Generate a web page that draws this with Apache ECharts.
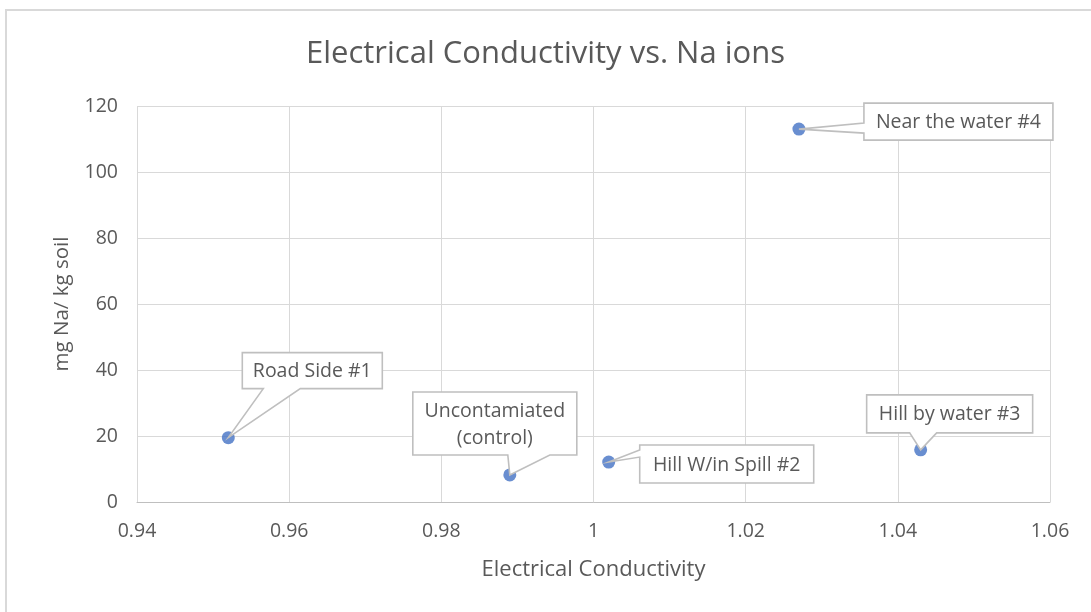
<!DOCTYPE html>
<html>
<head>
<meta charset="UTF-8">
<script src="https://cdn.jsdelivr.net/npm/echarts@6/dist/echarts.min.js"></script>
<title>Electrical Conductivity vs. Na ions</title>
<style>
html, body {
	margin: 0;
	padding: 0;
	background: #FFFFFF;
}

#main {
	width: 1091px;
	height: 612px;
}
</style>
</head>
<body>
	<div id="main"></div>
	<script>
		// data
		var siteNames = [ 'Road Side #1', 'Uncontamiated\n(control)', 'Hill W/in Spill #2', 'Hill by water #3', 'Near the water #4' ];
		var conductivity = [ 0.952, 0.989, 1.002, 1.043, 1.027 ];
		var sodium = [ 19.5, 8.2, 12.1, 15.8, 113 ];
		var xTicks = [ 0.94, 0.96, 0.98, 1, 1.02, 1.04, 1.06 ];
		var yTicks = [ 0, 20, 40, 60, 80, 100, 120 ];

		// callout boxes: offset from the point, size, which side the pointer leaves from
		var callouts = [
			{ dx : 14, dy : -85, w : 140, h : 36, side : 'bottom', b1 : 21, b2 : 58 },
			{ dx : -97, dy : -83, w : 164, h : 63, side : 'bottom', b1 : 95, b2 : 137 },
			{ dx : 31, dy : -17, w : 174, h : 38, side : 'left', b1 : 5, b2 : 12 },
			{ dx : -54, dy : -55, w : 166, h : 38, side : 'bottom', b1 : 43, b2 : 70 },
			{ dx : 65, dy : -26, w : 189, h : 37, side : 'left', b1 : 20, b2 : 30 }
		];

		var points = [];
		for (var i = 0; i < conductivity.length; i++) {
			points.push([ conductivity[i], sodium[i] ]);
		}

		var FONT = '"Open Sans", "Noto Sans", sans-serif';
		var TEXT = '#595959';

		function renderCallout(params, api) {
			var p = api.coord([ api.value(0), api.value(1) ]);
			var c = callouts[params.dataIndex];
			var x0 = p[0] + c.dx, y0 = p[1] + c.dy;
			var x1 = x0 + c.w, y1 = y0 + c.h;
			var pts;
			if (c.side == 'bottom') {
				pts = [ [ x0, y0 ], [ x1, y0 ], [ x1, y1 ], [ x0 + c.b2, y1 ], p,
						[ x0 + c.b1, y1 ], [ x0, y1 ] ];
			} else {
				pts = [ [ x0, y0 ], [ x1, y0 ], [ x1, y1 ], [ x0, y1 ],
						[ x0, y0 + c.b2 ], p, [ x0, y0 + c.b1 ] ];
			}
			return {
				type : 'group',
				children : [ {
					type : 'polygon',
					shape : { points : pts },
					style : { fill : '#FFFFFF', stroke : '#BFBFBF', lineWidth : 1.6 }
				}, {
					type : 'text',
					style : {
						text : siteNames[params.dataIndex],
						x : (x0 + x1) / 2,
						y : (y0 + y1) / 2 + 1,
						align : 'center',
						verticalAlign : 'middle',
						font : '19.5px ' + FONT,
						lineHeight : 27,
						fill : TEXT
					}
				} ]
			};
		}

		var option = {
			animation : false,
			backgroundColor : '#FFFFFF',
			title : {
				text : 'Electrical Conductivity vs. Na ions',
				left : 'center',
				top : 34,
				textStyle : { color : TEXT, fontSize : 31, fontWeight : 'normal', fontFamily : FONT }
			},
			graphic : [ {
				type : 'rect',
				shape : { x : 6, y : 10, width : 1200, height : 700 },
				style : { fill : 'none', stroke : '#D9D9D9', lineWidth : 2 },
				silent : true
			} ],
			grid : { left : 137, right : 41, top : 106, bottom : 110 },
			xAxis : {
				type : 'value',
				min : xTicks[0],
				max : xTicks[xTicks.length - 1],
				interval : 0.02,
				name : 'Electrical Conductivity',
				nameLocation : 'middle',
				nameGap : 57,
				nameTextStyle : { color : TEXT, fontSize : 22, fontFamily : FONT },
				axisLine : { show : true, onZero : false, lineStyle : { color : '#BFBFBF', width : 1 } },
				axisTick : { show : false },
				axisLabel : {
					margin : 19,
					color : TEXT, fontSize : 19.5, fontFamily : FONT,
					formatter : function(v) {
						return String(+v.toFixed(2));
					}
				},
				splitLine : { show : true, lineStyle : { color : '#D9D9D9', width : 1 } }
			},
			yAxis : {
				type : 'value',
				min : yTicks[0],
				max : yTicks[yTicks.length - 1],
				interval : 20,
				name : 'mg Na/ kg soil',
				nameLocation : 'middle',
				nameRotate : 90,
				nameGap : 64,
				nameTextStyle : { color : TEXT, fontSize : 20.5, fontFamily : FONT },
				axisLine : { show : false },
				axisTick : { show : false },
				axisLabel : { margin : 19, color : TEXT, fontSize : 19.5, fontFamily : FONT },
				splitLine : { show : true, lineStyle : { color : '#D9D9D9', width : 1 } }
			},
			series : [ {
				type : 'scatter',
				data : points,
				symbolSize : 13,
				itemStyle : { color : '#4472C4' },
				z : 2
			}, {
				type : 'custom',
				data : points,
				renderItem : renderCallout,
				clip : false,
				z : 3
			} ]
		};

		var mychart = echarts.init(document.getElementById('main'));
		mychart.setOption(option);
	</script>
</body>
</html>
